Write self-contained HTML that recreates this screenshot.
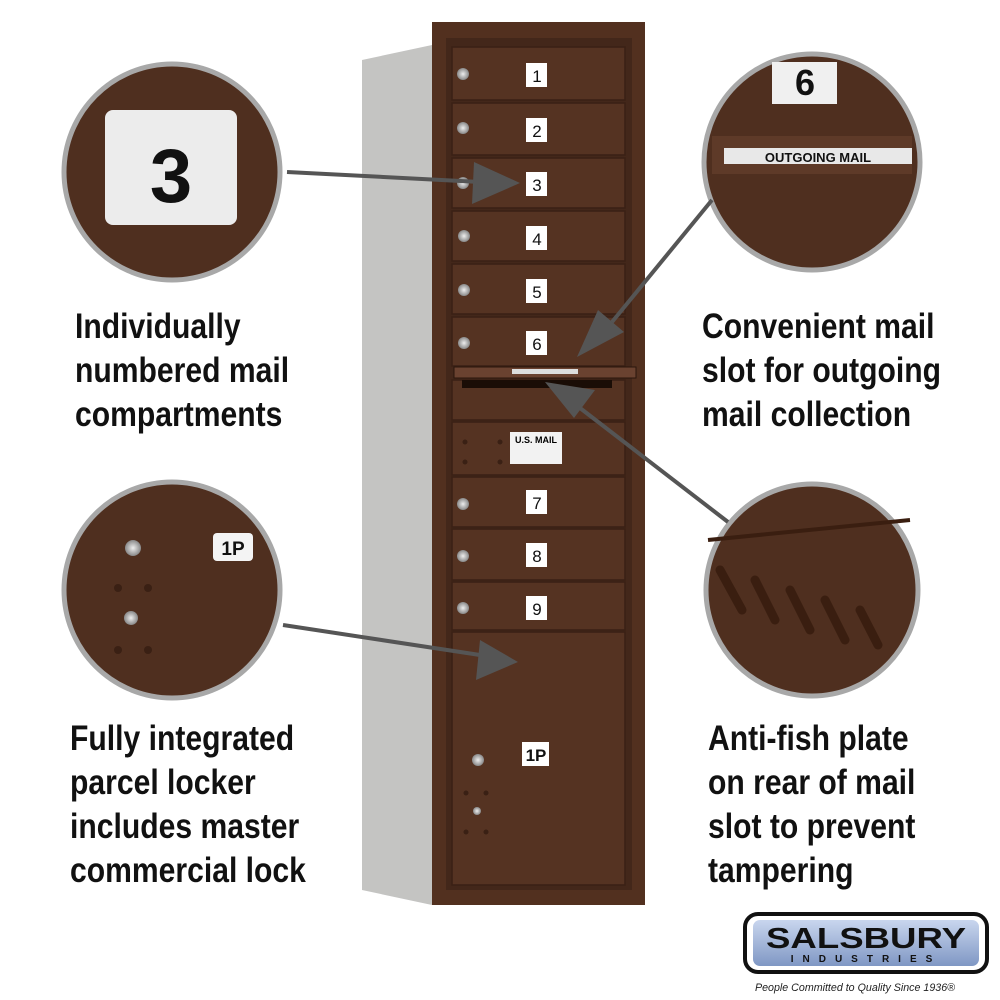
<!DOCTYPE html>
<html><head><style>
body{margin:0;background:#fff;width:1000px;height:1000px;overflow:hidden;position:relative;font-family:"Liberation Sans",sans-serif}
.t{position:absolute;font-weight:bold;font-size:35px;line-height:44px;color:#111;transform:scaleX(0.86);transform-origin:0 0;white-space:nowrap}
</style></head><body>
<svg width="1000" height="1000" style="position:absolute;left:0;top:0">
<defs>
<radialGradient id="k"><stop offset="0" stop-color="#eee"/><stop offset="1" stop-color="#888"/></radialGradient>
<linearGradient id="lg" x1="0" y1="0" x2="0" y2="1"><stop offset="0" stop-color="#c9d6ee"/><stop offset="1" stop-color="#7f97c4"/></linearGradient>
</defs>
<polygon points="362,60 432,45 432,905 362,890" fill="#c4c4c2"/>
<rect x="432" y="22" width="213" height="883" fill="#52301f"/>
<rect x="446" y="38" width="186" height="852" fill="#43271a"/>
<g fill="#553322" stroke="#3a2014" stroke-width="1.5">
<rect x="452" y="47" width="173" height="53"/>
<rect x="452" y="103" width="173" height="52"/>
<rect x="452" y="158" width="173" height="50"/>
<rect x="452" y="211" width="173" height="50"/>
<rect x="452" y="264" width="173" height="50"/>
<rect x="452" y="317" width="173" height="49"/>
<rect x="452" y="380" width="173" height="40"/>
<rect x="452" y="422" width="173" height="53"/>
<rect x="452" y="477" width="173" height="50"/>
<rect x="452" y="529" width="173" height="51"/>
<rect x="452" y="582" width="173" height="48"/>
<rect x="452" y="632" width="173" height="253"/>
</g>
<rect x="454" y="367" width="182" height="11" fill="#6a4230" stroke="#2a160c"/>
<rect x="462" y="380" width="150" height="8" fill="#1a0d06"/>
<rect x="512" y="369" width="66" height="5" fill="#ddd"/>
<g fill="url(#k)">
<circle cx="463" cy="74" r="6"/><circle cx="463" cy="128" r="6"/><circle cx="463" cy="183" r="6"/><circle cx="464" cy="236" r="6"/><circle cx="464" cy="290" r="6"/><circle cx="464" cy="343" r="6"/><circle cx="463" cy="504" r="6"/><circle cx="463" cy="556" r="6"/><circle cx="463" cy="608" r="6"/><circle cx="478" cy="760" r="6"/><circle cx="477" cy="811" r="4"/>
</g>
<g fill="#3a2014"><circle cx="465" cy="442" r="2.5"/><circle cx="465" cy="462" r="2.5"/><circle cx="500" cy="442" r="2.5"/><circle cx="500" cy="462" r="2.5"/><circle cx="466" cy="793" r="2.5"/><circle cx="486" cy="793" r="2.5"/><circle cx="466" cy="832" r="2.5"/><circle cx="486" cy="832" r="2.5"/></g>
<rect x="510" y="432" width="52" height="32" fill="#f2f2f2"/>
<text x="536" y="443" font-size="9" font-weight="bold" text-anchor="middle" font-family="Liberation Sans">U.S. MAIL</text>
<g fill="#fff"><rect x="526" y="63" width="21" height="24"/><rect x="526" y="118" width="21" height="24"/><rect x="526" y="172" width="21" height="24"/><rect x="526" y="226" width="21" height="24"/><rect x="526" y="279" width="21" height="24"/><rect x="526" y="331" width="21" height="24"/><rect x="526" y="490" width="21" height="24"/><rect x="526" y="543" width="21" height="24"/><rect x="526" y="596" width="21" height="24"/><rect x="522" y="742" width="27" height="24"/></g>
<g font-family="Liberation Sans" font-size="17" text-anchor="middle" fill="#111">
<text x="537" y="82">1</text><text x="537" y="137">2</text><text x="537" y="191">3</text><text x="537" y="245">4</text><text x="537" y="298">5</text><text x="537" y="350">6</text><text x="537" y="509">7</text><text x="537" y="562">8</text><text x="537" y="615">9</text><text x="536" y="761" font-weight="bold">1P</text>
</g>
<g stroke="#a8a8a8" stroke-width="5" fill="#4f2f1f">
<circle cx="172" cy="172" r="108"/><circle cx="172" cy="590" r="108"/><circle cx="812" cy="162" r="108"/><circle cx="812" cy="590" r="106"/>
</g>
<rect x="105" y="110" width="132" height="115" rx="8" fill="#ececec"/>
<text x="171" y="202" font-family="Liberation Sans" font-weight="bold" font-size="76" text-anchor="middle" fill="#111">3</text>
<rect x="213" y="533" width="40" height="28" rx="4" fill="#f4f4f4"/>
<text x="233" y="555" font-family="Liberation Sans" font-weight="bold" font-size="19" text-anchor="middle" fill="#111">1P</text>
<circle cx="133" cy="548" r="8" fill="url(#k)"/><circle cx="131" cy="618" r="7" fill="url(#k)"/>
<g fill="#3a2014"><circle cx="118" cy="588" r="4"/><circle cx="148" cy="588" r="4"/><circle cx="118" cy="650" r="4"/><circle cx="148" cy="650" r="4"/></g>
<rect x="772" y="62" width="65" height="42" fill="#f0f0f0"/>
<text x="805" y="95" font-family="Liberation Sans" font-weight="bold" font-size="36" text-anchor="middle" fill="#111">6</text>
<rect x="712" y="136" width="200" height="38" fill="#5e3a28"/>
<rect x="724" y="148" width="188" height="16" fill="#e8e8e8"/>
<text x="818" y="162" font-family="Liberation Sans" font-weight="bold" font-size="13" text-anchor="middle" fill="#111">OUTGOING MAIL</text>
<g stroke="#3a1e10" stroke-width="9" stroke-linecap="round"><line x1="720" y1="570" x2="742" y2="610"/><line x1="755" y1="580" x2="775" y2="620"/><line x1="790" y1="590" x2="810" y2="630"/><line x1="825" y1="600" x2="845" y2="640"/><line x1="860" y1="610" x2="878" y2="645"/></g>
<path d="M708 540 L910 520" stroke="#3a1e10" stroke-width="4"/>
<g stroke="#555" stroke-width="4" fill="#555">
<line x1="287" y1="172" x2="480" y2="182"/><polygon points="474,162 520,183 472,204" stroke="none"/>
<line x1="712" y1="200" x2="612" y2="322"/><polygon points="577,357 598,310 624,332" stroke="none"/>
<line x1="728" y1="522" x2="580" y2="408"/><polygon points="545,382 595,390 574,418" stroke="none"/>
<line x1="283" y1="625" x2="480" y2="655"/><polygon points="518,662 476,680 480,640" stroke="none"/>
</g>
<rect x="745" y="914" width="242" height="58" rx="13" fill="#fff" stroke="#111" stroke-width="4"/>
<rect x="753" y="920" width="226" height="46" rx="7" fill="url(#lg)"/>
<text x="866" y="948" font-family="Liberation Sans" font-weight="bold" font-size="29" text-anchor="middle" fill="#111" textLength="200" lengthAdjust="spacingAndGlyphs">SALSBURY</text>
<text x="866" y="962" font-family="Liberation Sans" font-weight="bold" font-size="10" text-anchor="middle" fill="#111" letter-spacing="9">INDUSTRIES</text>
<text x="855" y="991" font-family="Liberation Sans" font-style="italic" font-size="11" text-anchor="middle" fill="#222" textLength="200" lengthAdjust="spacingAndGlyphs">People Committed to Quality Since 1936®</text>
</svg>
<div class="t" style="left:75px;top:305px">Individually<br>numbered mail<br>compartments</div>
<div class="t" style="left:702px;top:305px">Convenient mail<br>slot for outgoing<br>mail collection</div>
<div class="t" style="left:70px;top:717px">Fully integrated<br>parcel locker<br>includes master<br>commercial lock</div>
<div class="t" style="left:708px;top:717px">Anti-fish plate<br>on rear of mail<br>slot to prevent<br>tampering</div>
</body></html>
